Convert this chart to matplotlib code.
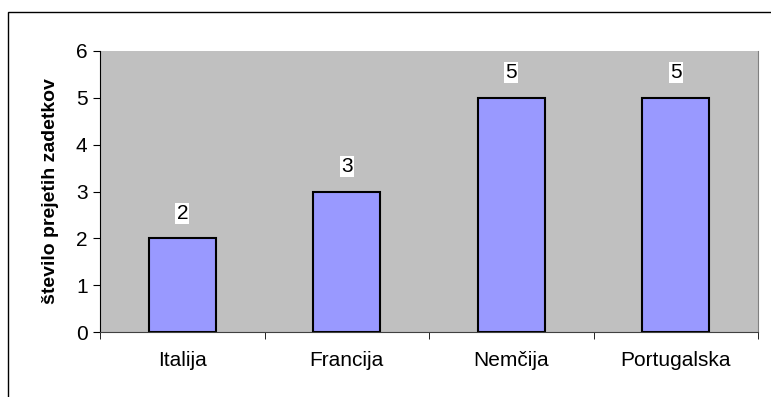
import numpy as np
import matplotlib.pyplot as plt
from matplotlib.patches import Rectangle

# data
countries = ['Italija', 'Francija', 'Nemčija', 'Portugalska']
goals = [2, 3, 5, 5]
yticks = [0, 1, 2, 3, 4, 5, 6]

plt.rcParams['font.family'] = ['Liberation Sans', 'DejaVu Sans']

fig = plt.figure(figsize=(7.71, 3.97), dpi=100)
# outer chart frame (only top/left edges visible in the picture)
fig.patches.append(Rectangle((8 / 771, -0.05), 1.2, (397 - 12) / 397 + 0.05,
                             transform=fig.transFigure, fill=False,
                             edgecolor='black', linewidth=1.0))

ax = fig.add_axes([100 / 771, 65 / 397, 658 / 771, 281 / 397])
ax.set_facecolor('#C0C0C0')

x = np.arange(len(countries))
bars = ax.bar(x, goals, width=0.41, color='#9999FF', edgecolor='black',
              linewidth=1.5, zorder=2)

for xi, v in zip(x, goals):
    ax.annotate(str(v), (xi, v), xytext=(0, 18), textcoords='offset points',
                ha='center', va='center', fontsize=15,
                bbox=dict(boxstyle='square,pad=0.05', fc='white', ec='none'))

ax.set_xlim(-0.5, len(countries) - 0.5)
ax.set_ylim(0, 6)
ax.set_yticks(yticks)
ax.set_xticks(x)
ax.set_xticklabels(countries, fontsize=15)
ax.tick_params(axis='x', length=0, pad=14)
ax.set_xticks(np.arange(-0.5, len(countries)), minor=True)
ax.tick_params(axis='x', which='minor', length=5, direction='out', color='black')
ax.tick_params(axis='y', labelsize=15, length=5, direction='out', pad=4)
ax.set_ylabel('število prejetih zadetkov', fontsize=14, fontweight='bold', labelpad=12)

ax.spines['top'].set_visible(False)
ax.spines['right'].set_color('#808080')
ax.spines['left'].set_color('black')
ax.spines['bottom'].set_color('#404040')

fig.savefig('out.png', dpi=100)
